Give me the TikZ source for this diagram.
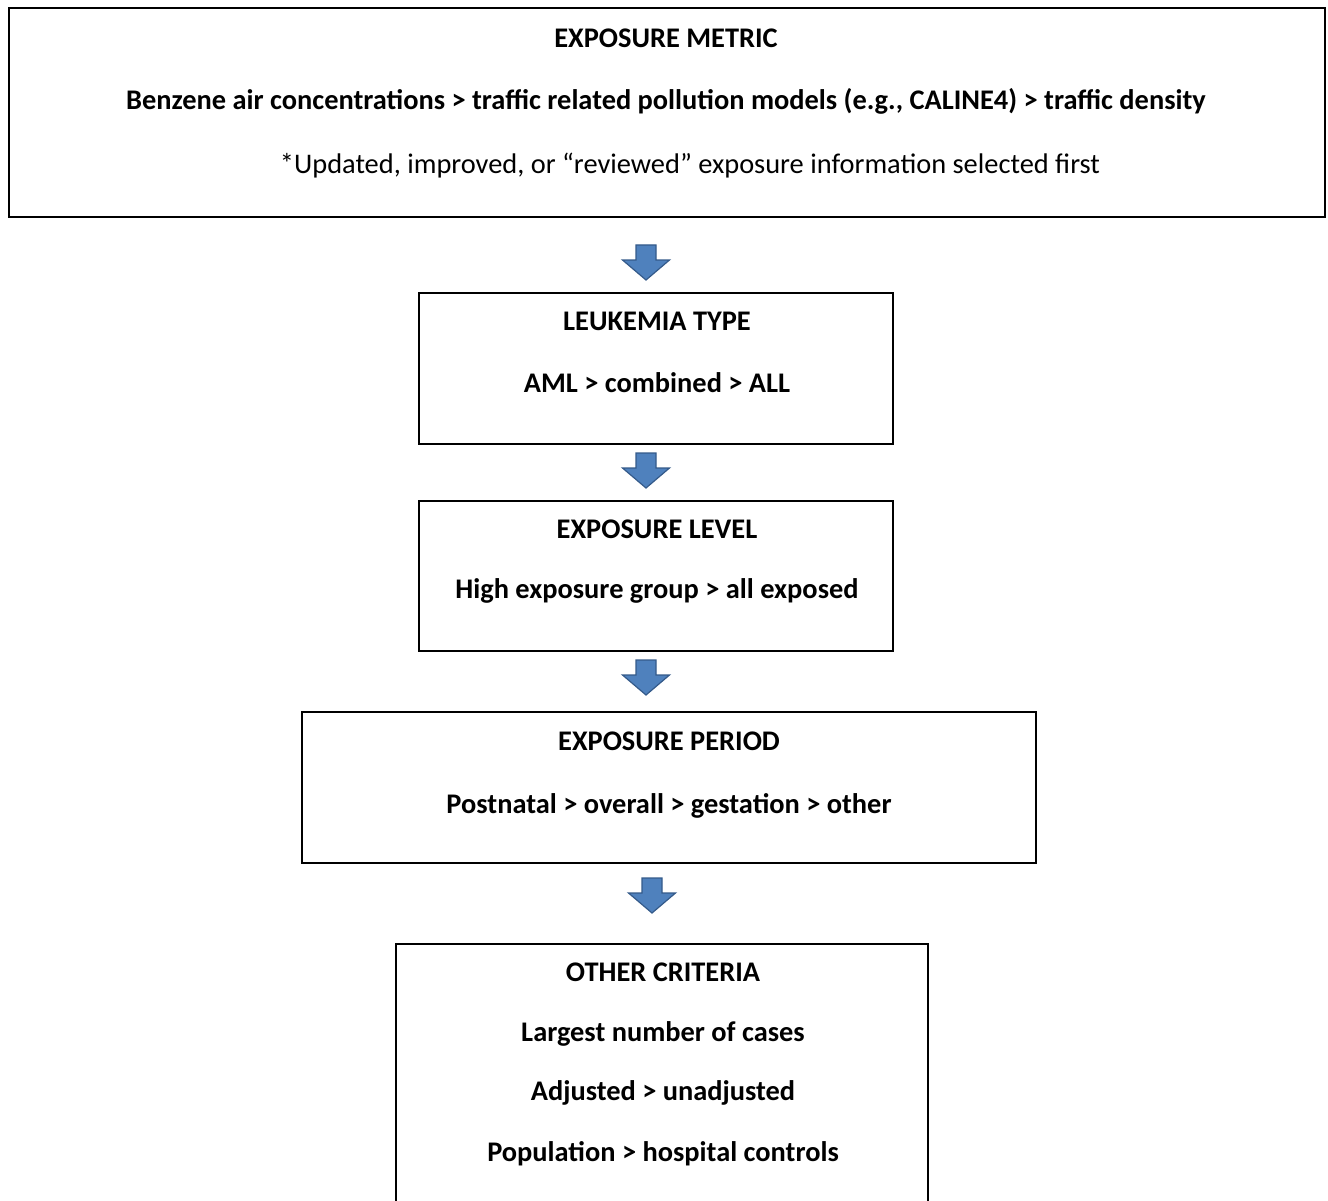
\documentclass[tikz,border=0pt]{standalone}
\usepackage{fontspec}
\setmainfont{Carlito}
\definecolor{arrowedge}{RGB}{52,90,138}
\definecolor{arrowfill}{RGB}{79,129,189}
\begin{document}
\begin{tikzpicture}[x=1pt,y=-1pt,
  box/.style={draw=black,line width=2.8pt,inner sep=0pt,outer sep=0pt},
  txt/.style={font=\fontsize{28.4}{32}\selectfont\bfseries,inner sep=0pt,anchor=center},
  ntxt/.style={font=\fontsize{28.4}{32}\selectfont,inner sep=0pt,anchor=center},
  blockarrow/.style={draw=arrowedge,line width=1.2pt,fill=arrowfill}]
\useasboundingbox (0,0) rectangle (1328,1201);
\clip (0,0) rectangle (1328,1201);
% boxes
\node[box,minimum width=1316pt,minimum height=209pt] (n1) at (667,112.5) {};
\node[box,minimum width=474pt,minimum height=151pt] (n2) at (656,368.5) {};
\node[box,minimum width=474pt,minimum height=150pt] (n3) at (656,576) {};
\node[box,minimum width=734pt,minimum height=151pt] (n4) at (669,787.5) {};
\node[box,minimum width=532pt,minimum height=286pt] (n5) at (662,1087) {};
% texts
\node[txt] (t1a) at (666,38) {EXPOSURE METRIC};
\node[txt] (t1b) at (666,101.5) {Benzene air concentrations > traffic related pollution models (e.g., CALINE4) > traffic density};
\node[ntxt] (t1c) at (690,165.5) {*Updated, improved, or “reviewed” exposure information selected first};
\node[txt] (t2a) at (657,321) {LEUKEMIA TYPE};
\node[txt] (t2b) at (657,382.5) {AML > combined > ALL};
\node[txt] (t3a) at (657,529) {EXPOSURE LEVEL};
\node[txt] (t3b) at (657,590.5) {High exposure group > all exposed};
\node[txt] (t4a) at (669,741) {EXPOSURE PERIOD};
\node[txt] (t4b) at (669,805.5) {Postnatal > overall > gestation > other};
\node[txt] (t5a) at (663,972) {OTHER CRITERIA};
\node[txt] (t5b) at (663,1033.5) {Largest number of cases};
\node[txt] (t5c) at (663,1092.5) {Adjusted > unadjusted};
\node[txt] (t5d) at (663,1153.5) {Population > hospital controls};
% block arrows
\foreach \cx/\ty in {646/245, 646/453, 646/660, 652/878}{
  \draw[blockarrow] (\cx-10,\ty) -- (\cx+10,\ty) -- (\cx+10,\ty+15) -- (\cx+23.5,\ty+15)
    -- (\cx,\ty+35) -- (\cx-23.5,\ty+15) -- (\cx-10,\ty+15) -- cycle;
}
\end{tikzpicture}
\end{document}
